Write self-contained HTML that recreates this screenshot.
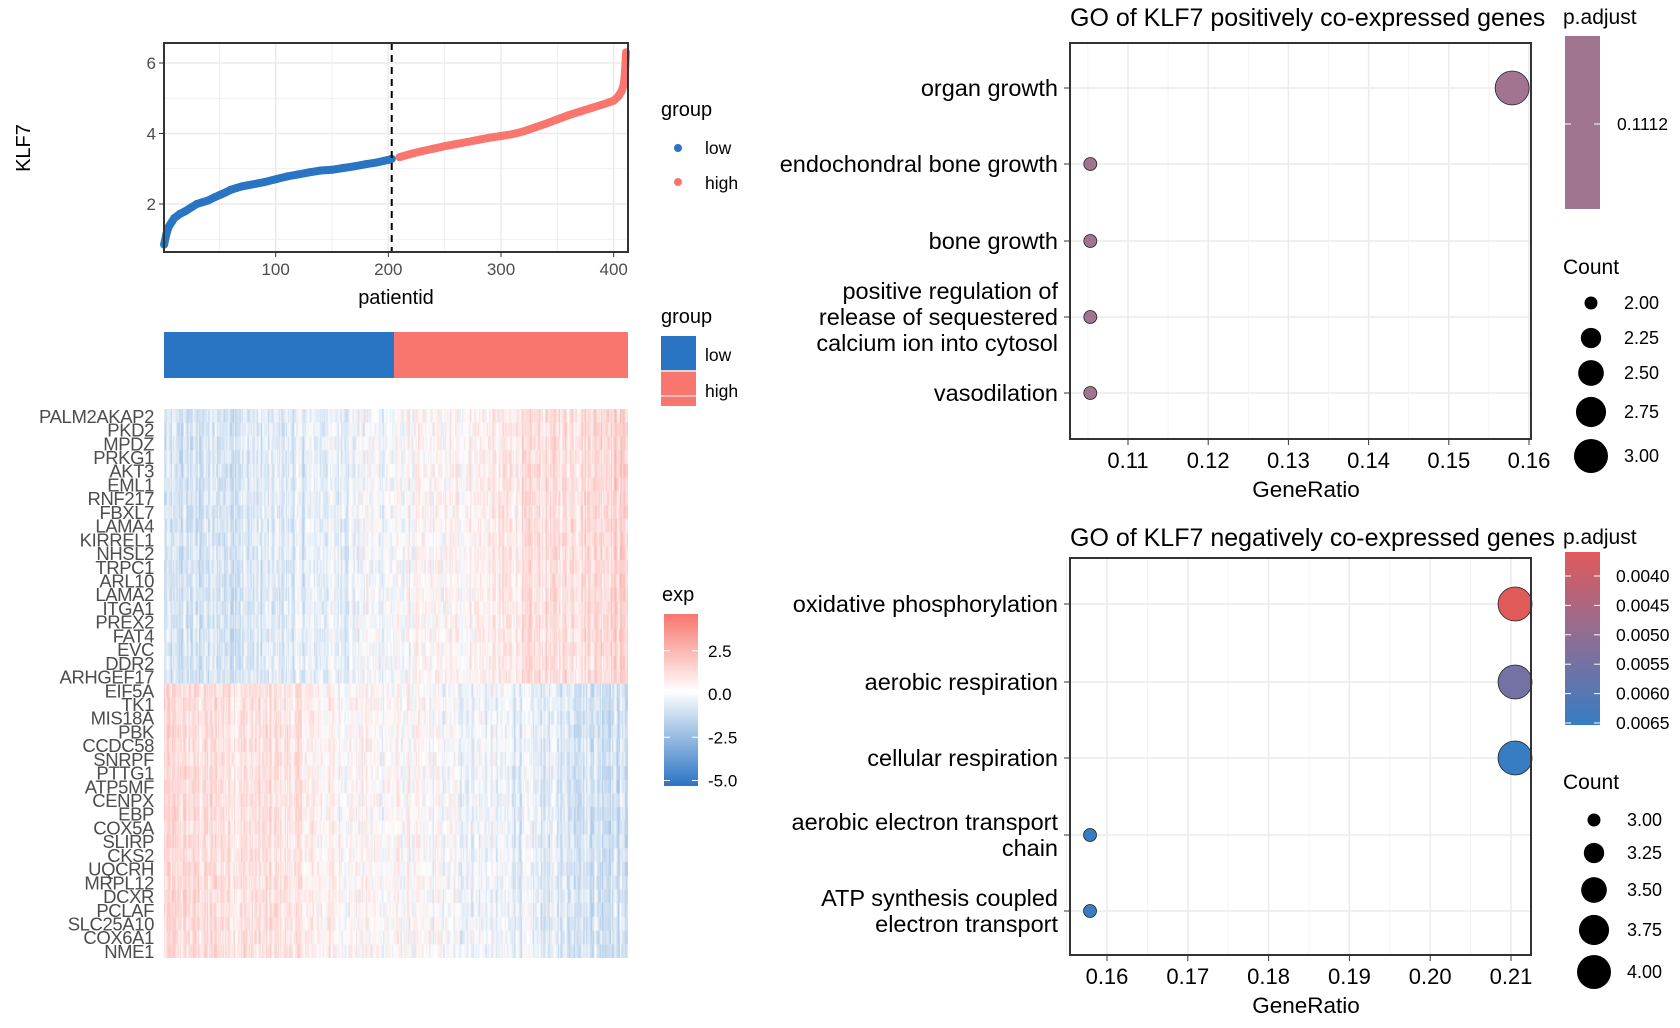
<!DOCTYPE html>
<html><head><meta charset="utf-8">
<style>
html,body{margin:0;padding:0;background:#fff;}
svg{display:block;font-family:"Liberation Sans",Arial,sans-serif;}
#hm{position:absolute;left:164px;top:409px;}
</style></head>
<body>
<div style="position:relative;width:1680px;height:1028px;">
<svg id="svg" width="1680" height="1028"></svg>
<canvas id="hm" width="464" height="549"></canvas>
</div>
<script>
// ---- scatter data (KLF7 by sorted patient index) ----
const patIdx=[1,3,5,8,10,15,20,25,30,35,40,45,50,55,60,65,70,75,80,90,100,110,120,130,140,150,160,170,180,190,200,203,210,220,230,240,250,260,270,280,290,300,310,320,330,340,350,360,370,380,390,400,404,407,409,410,411];
const klf7=[0.85,1.15,1.35,1.5,1.6,1.72,1.8,1.9,2.0,2.05,2.1,2.18,2.25,2.32,2.4,2.45,2.5,2.53,2.56,2.62,2.7,2.78,2.84,2.9,2.95,2.97,3.02,3.07,3.13,3.18,3.25,3.28,3.33,3.42,3.5,3.57,3.64,3.7,3.76,3.82,3.88,3.93,3.98,4.06,4.17,4.28,4.4,4.52,4.62,4.72,4.82,4.93,5.05,5.2,5.4,5.7,6.3];
const splitIdx=203;
const sxTicks=[100,200,300,400];
const syTicks=[2,4,6];
// ---- GO positive ----
const posTerms=[["organ growth"],["endochondral bone growth"],["bone growth"],["positive regulation of","release of sequestered","calcium ion into cytosol"],["vasodilation"]];
const posRatio=[0.1579,0.1053,0.1053,0.1053,0.1053];
const posCount=[3,2,2,2,2];
const posP=[0.1112,0.1112,0.1112,0.1112,0.1112];
const posTicks=[0.11,0.12,0.13,0.14,0.15,0.16];
// ---- GO negative ----
const negTerms=[["oxidative phosphorylation"],["aerobic respiration"],["cellular respiration"],["aerobic electron transport","chain"],["ATP synthesis coupled","electron transport"]];
const negRatio=[0.2105,0.2105,0.2105,0.1579,0.1579];
const negCount=[4,4,4,3,3];
const negP=[0.0038,0.0056,0.0066,0.0066,0.0066];
const negTicks=[0.16,0.17,0.18,0.19,0.20,0.21];
const negPTicks=[0.0040,0.0045,0.0050,0.0055,0.0060,0.0065];
// ---- heatmap ----
const upGenes=["PALM2AKAP2","PKD2","MPDZ","PRKG1","AKT3","EML1","RNF217","FBXL7","LAMA4","KIRREL1","NHSL2","TRPC1","ARL10","LAMA2","ITGA1","PREX2","FAT4","EVC","DDR2","ARHGEF17"];
const downGenes=["EIF5A","TK1","MIS18A","PBK","CCDC58","SNRPF","PTTG1","ATP5MF","CENPX","EBP","COX5A","SLIRP","CKS2","UQCRH","MRPL12","DCXR","PCLAF","SLC25A10","COX6A1","NME1"];

const NS="http://www.w3.org/2000/svg";
const svg=document.getElementById('svg');
function el(tag,attrs,parent,name,inter){const e=document.createElementNS(NS,tag);for(const k in attrs)e.setAttribute(k,attrs[k]);(parent||svg).appendChild(e);return e;}
function txt(x,y,s,attrs,name){const t=el('text',Object.assign({x:x,y:y},attrs),svg,name,false);t.textContent=s;return t;}

// ===== Scatter =====
const sx=v=>163+(v)*1.1267, sy=v=>204-(v-2)*35.25;
const SL=164,SR=628,ST=43,SB=252;
for(let v=50;v<=400;v+=50){el('line',{x1:sx(v),x2:sx(v),y1:ST,y2:SB,stroke:'#ebebeb','stroke-width':v%100?0.8:1.5},svg,'x-grid',false);}
for(let v=1;v<=6;v++){el('line',{x1:SL,x2:SR,y1:sy(v),y2:sy(v),stroke:'#ebebeb','stroke-width':v%2?0.8:1.5},svg,'y-grid',false);}
const lowPts=[],highPts=[];
patIdx.forEach((p,i)=>{(p<=splitIdx?lowPts:highPts).push([sx(p),sy(klf7[i])]);});
function pathOf(a){return a.map((q,i)=>(i?'L':'M')+q[0].toFixed(1)+','+q[1].toFixed(1)).join(' ');}
el('path',{d:pathOf(lowPts),stroke:'#2a74c4','stroke-width':8,fill:'none','stroke-linecap':'round'},svg,'low-series-line',false);
el('path',{d:pathOf(highPts),stroke:'#f8766d','stroke-width':8,fill:'none','stroke-linecap':'round'},svg,'high-series-line',false);
patIdx.forEach((p,i)=>{el('circle',{cx:sx(p),cy:sy(klf7[i]),r:4,fill:p<=splitIdx?'#2a74c4':'#f8766d'},svg,'patient-point',false);});
el('line',{x1:sx(splitIdx),x2:sx(splitIdx),y1:ST,y2:SB,stroke:'#000','stroke-width':2,'stroke-dasharray':'7,5'},svg,'split-line',false);
el('rect',{x:SL,y:ST,width:SR-SL,height:SB-ST,fill:'none',stroke:'#333','stroke-width':2},svg,'scatter-panel',false);
sxTicks.forEach(v=>{el('line',{x1:sx(v),x2:sx(v),y1:SB,y2:SB+5,stroke:'#333'},svg,'x-tick',false);txt(sx(v),SB+23,v,{'font-size':17,fill:'#4d4d4d','text-anchor':'middle'},'x-tick-label');});
syTicks.forEach(v=>{el('line',{x1:SL-5,x2:SL,y1:sy(v),y2:sy(v),stroke:'#333'},svg,'y-tick',false);txt(SL-8,sy(v)+6,v,{'font-size':17,fill:'#4d4d4d','text-anchor':'end'},'y-tick-label');});
txt(396,304,'patientid',{'font-size':20,'text-anchor':'middle'},'x-axis-title');
txt(30,148,'KLF7',{'font-size':20,'text-anchor':'middle',transform:'rotate(-90 30 148)'},'y-axis-title');
txt(661,116,'group',{'font-size':20},'group-legend-title');
el('circle',{cx:678,cy:148,r:4,fill:'#2a74c4'},svg,'legend-low-dot',false);
txt(705,154,'low',{'font-size':17.5},'legend-low-label');
el('circle',{cx:678,cy:182,r:4,fill:'#f8766d'},svg,'legend-high-dot',false);
txt(705,189,'high',{'font-size':17.5},'legend-high-label');

// ===== group bar =====
el('rect',{x:164,y:332,width:230,height:46,fill:'#2a74c4'},svg,'group-bar-low',false);
el('rect',{x:394,y:332,width:234,height:46,fill:'#f8766d'},svg,'group-bar-high',false);
txt(661,323,'group',{'font-size':20},'group-annotation-legend-title');
el('rect',{x:661,y:336,width:35,height:34,fill:'#2a74c4'},svg,'annotation-legend-low',false);
el('rect',{x:661,y:372,width:35,height:34,fill:'#f8766d'},svg,'annotation-legend-high',false);
el('line',{x1:661,x2:696,y1:371,y2:371,stroke:'#ccc','stroke-width':1.5},svg,'legend-separator',false);
el('line',{x1:661,x2:696,y1:396,y2:396,stroke:'#fff','stroke-width':1},svg,'legend-separator',false);
txt(705,361,'low',{'font-size':17.5},'annotation-low-label');
txt(705,397,'high',{'font-size':17.5},'annotation-high-label');

// ===== heatmap labels =====
const genes=upGenes.concat(downGenes);
genes.forEach((g,i)=>{txt(154,409+(i+0.5)*13.72+7,g,{'font-size':18.5,fill:'#4d4d4d','text-anchor':'end','letter-spacing':'-0.4'},'gene-label');});
// exp legend
const gd=el('linearGradient',{id:'expg',x1:0,y1:0,x2:0,y2:1},el('defs',{},svg,'defs',false),'exp-gradient',false);
[['0','#f8766d'],['0.45','#ffffff'],['1','#2a74c4']].forEach(s=>el('stop',{offset:s[0],'stop-color':s[1]},gd,'gradient-stop',false));
txt(662,601,'exp',{'font-size':20},'exp-legend-title');
el('rect',{x:664,y:614,width:34,height:172,fill:'url(#expg)'},svg,'exp-colorbar',false);
const ex=v=>694-v*17.3;
[2.5,0,-2.5,-5].forEach(v=>{el('line',{x1:664,x2:670,y1:ex(v),y2:ex(v),stroke:'#fff'},svg,'colorbar-tick',false);el('line',{x1:692,x2:698,y1:ex(v),y2:ex(v),stroke:'#fff'},svg,'colorbar-tick',false);txt(708,ex(v)+6,v.toFixed(1),{'font-size':17},'exp-legend-label');});

// heatmap canvas (texture)
(function(){const c=document.getElementById('hm').getContext('2d');let s=12345;const rnd=()=>{s=(s*1103515245+12345)&0x7fffffff;return s/0x7fffffff;};
const ncol=411,cw=464/ncol,rh=549/40;const colN=[];for(let j=0;j<ncol;j++)colN.push(rnd()*2-1);
function col(v){v=Math.max(-3.5,Math.min(3.5,v));if(v>=0){const t=v/4;return `rgb(${255+(248-255)*t|0},${255+(118-255)*t|0},${255+(109-255)*t|0})`;}const t=-v/5;return `rgb(${255+(42-255)*t|0},${255+(116-255)*t|0},${255+(196-255)*t|0})`;}
for(let j=0;j<ncol;j++){const f=j/ncol;const trend=f<0.3?-1.1+f*1.5:(f<0.6?-0.6+(f-0.3)*2.5:0.15+(f-0.6)*3.2);
for(let i=0;i<40;i++){const sign=i<20?1:-1;let v=sign*trend*(i<20?1:0.75)+colN[j]*0.7+(rnd()-0.5)*1.1;if(i>=20&&f<0.3)v+=0.2;c.fillStyle=col(v);c.fillRect(j*cw,i*rh,cw+0.4,rh+0.4);}}})();

// ===== GO dot plots =====
function dotPlot(o){
 const L=1070,R=1531,T=o.T,B=o.B;const xs=v=>o.x0+(v-o.t0)*o.k;
 txt(1070,o.titleY,o.title,{'font-size':25},o.prefix+'-title');
 o.ticks.forEach((v,i)=>{el('line',{x1:xs(v),x2:xs(v),y1:T,y2:B,stroke:'#ebebeb','stroke-width':1.5},svg,'x-grid',false);if(i<o.ticks.length-1){const m=xs(v+0.005);el('line',{x1:m,x2:m,y1:T,y2:B,stroke:'#f2f2f2','stroke-width':0.8},svg,'x-grid-minor',false);}});
 const m0=xs(o.ticks[0]-0.005);el('line',{x1:m0,x2:m0,y1:T,y2:B,stroke:'#f2f2f2','stroke-width':0.8},svg,'x-grid-minor',false);
 o.ys.forEach((y,i)=>{el('line',{x1:L,x2:R,y1:y,y2:y,stroke:'#ebebeb','stroke-width':1.5},svg,'y-grid',false);el('line',{x1:L-6,x2:L,y1:y,y2:y,stroke:'#333'},svg,'y-tick',false);
  const lines=o.terms[i];lines.forEach((s,k)=>{txt(1058,y+8+(k-(lines.length-1)/2)*26,s,{'font-size':23.5,'text-anchor':'end'},'term-label');});
  el('circle',{cx:xs(o.ratio[i]),cy:y,r:o.rad(o.count[i]),fill:o.color(o.p[i]),stroke:'#222','stroke-width':0.8},svg,o.prefix+'-dot',false);});
 el('rect',{x:L,y:T,width:R-L,height:B-T,fill:'none',stroke:'#333','stroke-width':2},svg,o.prefix+'-panel',false);
 o.ticks.forEach(v=>{el('line',{x1:xs(v),x2:xs(v),y1:B,y2:B+6,stroke:'#333'},svg,'x-tick',false);txt(xs(v),B+29,v.toFixed(2),{'font-size':22,'text-anchor':'middle'},'x-tick-label');});
 txt(1306,B+58,'GeneRatio',{'font-size':22.5,'text-anchor':'middle'},o.prefix+'-x-axis-title');
}
function lerpC(a,b,t){return 'rgb('+a.map((v,i)=>Math.round(v+(b[i]-v)*t)).join(',')+')';}
const cRed=[224,90,90],cPur=[140,110,150],cBlue=[55,125,195];
function negColor(p){const t=(p-0.0038)/(0.0066-0.0038);return t<0.5?lerpC(cRed,cPur,t*2):lerpC(cPur,cBlue,(t-0.5)*2);}
const rPos=c=>Math.sqrt(42+(c-2)*247);
const rNeg=c=>Math.sqrt(42+(c-3)*247);
dotPlot({prefix:'go-positive',title:'GO of KLF7 positively co-expressed genes',titleY:26,T:43,B:439,ys:[88,164,241,317,393],x0:1128,t0:0.11,k:8020,ticks:posTicks,terms:posTerms,ratio:posRatio,count:posCount,p:posP,rad:rPos,color:()=>'#a17490'});
dotPlot({prefix:'go-negative',title:'GO of KLF7 negatively co-expressed genes',titleY:546,T:558,B:955,ys:[604,682,758,835,911],x0:1107,t0:0.16,k:8080,ticks:negTicks,terms:negTerms,ratio:negRatio,count:negCount,p:negP,rad:rNeg,color:negColor});

// legends right
txt(1563,24,'p.adjust',{'font-size':21},'pos-padjust-title');
el('rect',{x:1565,y:36,width:35,height:173,fill:'#a17490'},svg,'pos-padjust-colorbar',false);
el('line',{x1:1565,x2:1571,y1:124,y2:124,stroke:'#fff'},svg,'colorbar-tick',false);
el('line',{x1:1594,x2:1600,y1:124,y2:124,stroke:'#fff'},svg,'colorbar-tick',false);
txt(1617,130,'0.1112',{'font-size':17.5},'pos-padjust-label');
txt(1563,274,'Count',{'font-size':21},'pos-count-title');
const posCountLeg=[2.00,2.25,2.50,2.75,3.00];const posCountY=[303,338,373,412,456];
posCountLeg.forEach((c,i)=>{el('circle',{cx:1591,cy:posCountY[i],r:rPos(c),fill:'#000'},svg,'pos-count-key',false);txt(1624,posCountY[i]+6,c.toFixed(2),{'font-size':18},'pos-count-label');});

txt(1563,544,'p.adjust',{'font-size':21},'neg-padjust-title');
const g2=el('linearGradient',{id:'pg',x1:0,y1:0,x2:0,y2:1},svg.querySelector('defs'),'padjust-gradient',false);
[['0',negColor(0.0038)],['0.5',negColor(0.0052)],['1',negColor(0.0066)]].forEach(s=>el('stop',{offset:s[0],'stop-color':s[1]},g2,'gradient-stop',false));
el('rect',{x:1565,y:552,width:35,height:173,fill:'url(#pg)'},svg,'neg-padjust-colorbar',false);
const py=v=>576+(v-0.0040)/0.0005*29.4;
negPTicks.forEach(v=>{el('line',{x1:1565,x2:1571,y1:py(v),y2:py(v),stroke:'#fff'},svg,'colorbar-tick',false);el('line',{x1:1594,x2:1600,y1:py(v),y2:py(v),stroke:'#fff'},svg,'colorbar-tick',false);txt(1616,py(v)+6,v.toFixed(4),{'font-size':17.5},'neg-padjust-label');});
txt(1563,789,'Count',{'font-size':21},'neg-count-title');
const negCountLeg=[3.00,3.25,3.50,3.75,4.00];const negCountY=[820,853,890,930,972];
negCountLeg.forEach((c,i)=>{el('circle',{cx:1594,cy:negCountY[i],r:rNeg(c),fill:'#000'},svg,'neg-count-key',false);txt(1627,negCountY[i]+6,c.toFixed(2),{'font-size':18},'neg-count-label');});
</script>
</body></html>
